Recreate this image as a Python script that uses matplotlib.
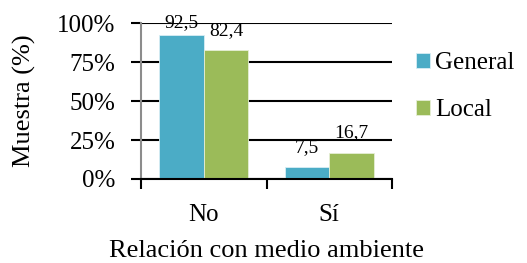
import matplotlib
matplotlib.use("Agg")
import matplotlib.pyplot as plt
import numpy as np

categories = ["No", "Sí"]
general = [92.5, 7.5]
local = [82.4, 16.7]
series_names = ["General", "Local"]
label_text_general = ["92,5", "7,5"]
label_text_local = ["82,4", "16,7"]
yticks = [0, 25, 50, 75, 100]
yticklabels = ["0%", "25%", "50%", "75%", "100%"]

plt.rcParams['font.family'] = ['Liberation Serif', 'DejaVu Serif']

fig = plt.figure(figsize=(5.27, 2.63), dpi=100)
ax = fig.add_axes([0.2676, 0.3194, 0.4762, 0.5931])

x = np.arange(len(categories))
w = 0.356
c_gen = "#4BACC6"
c_loc = "#9BBB59"

for yv in yticks:
    ax.axhline(yv, color="black", lw=1.5, zorder=1)

ax.bar(x - w/2, general, w, color=c_gen, edgecolor="#d8eef4", linewidth=0.6, label=series_names[0], zorder=2)
ax.bar(x + w/2, local, w, color=c_loc, edgecolor="#e6eed6", linewidth=0.6, label=series_names[1], zorder=2)

off = 12.8
for xi, v, t in zip(x - w/2, general, label_text_general):
    ax.text(xi, min(v + off, 100), t, ha="center", va="center", fontsize=14, clip_on=False, zorder=3)
for xi, v, t in zip(x + w/2, local, label_text_local):
    ax.text(xi, min(v + off, 100), t, ha="center", va="center", fontsize=14, clip_on=False, zorder=3)

ax.set_xlim(-0.5, 1.5)
ax.set_ylim(0, 100)
ax.set_yticks(yticks)
ax.set_yticklabels(yticklabels, fontsize=18)
ax.set_xticks(x)
ax.set_xticklabels(categories, fontsize=18)
ax.set_xticks([-0.5, 0.5, 1.5], minor=True)
ax.tick_params(axis="x", which="major", length=0, pad=18)
ax.tick_params(axis="x", which="minor", length=7, width=1.5, color="black")
ax.tick_params(axis="y", length=7, width=1.5, color="black", pad=11.5)

for s in ["top", "right"]:
    ax.spines[s].set_visible(False)
ax.spines["left"].set_color("#8c8c8c")
ax.spines["left"].set_linewidth(1.5)
ax.spines["bottom"].set_color("black")
ax.spines["bottom"].set_linewidth(1.5)
ax.spines["bottom"].set_zorder(3)

ax.set_xlabel("Relación con medio ambiente", fontsize=19, labelpad=10)
ax.set_ylabel("Muestra (%)", fontsize=19, labelpad=15)

ax.legend(loc="center left", bbox_to_anchor=(1.056, 0.59), frameon=False, fontsize=18,
          handlelength=0.55, handleheight=0.55, handletextpad=0.2, labelspacing=1.0, borderaxespad=0)

fig.savefig("out.png", dpi=100)
